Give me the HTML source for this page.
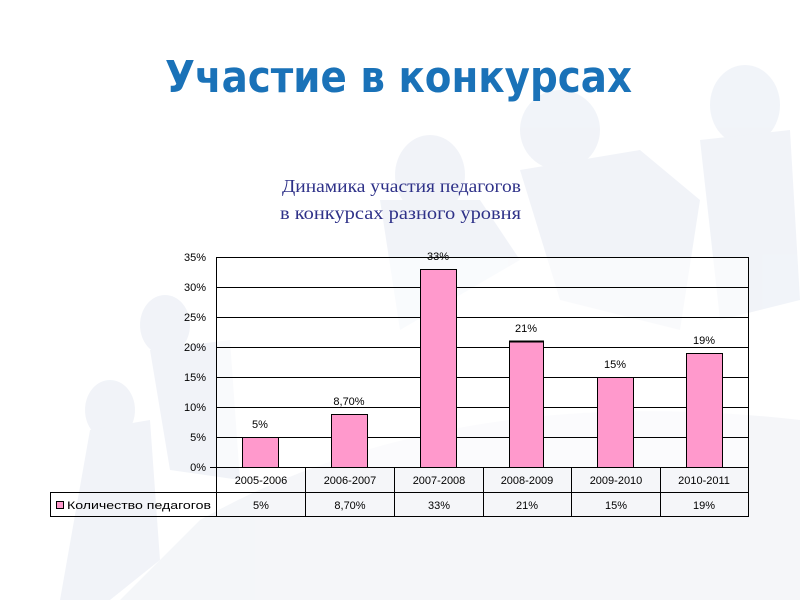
<!DOCTYPE html>
<html><head><meta charset="utf-8"><style>
html,body{margin:0;padding:0;background:#fff;}
</style></head><body>
<svg width="800" height="600" xmlns="http://www.w3.org/2000/svg" font-family="Liberation Sans, DejaVu Sans, sans-serif">
<rect width="800" height="600" fill="#ffffff"/>
<g fill="#eef1f7" opacity="0.8">
<ellipse cx="745" cy="105" rx="35" ry="40"/>
<ellipse cx="560" cy="130" rx="40" ry="40"/>
<ellipse cx="430" cy="175" rx="35" ry="40"/>
<ellipse cx="165" cy="325" rx="25" ry="30"/>
<ellipse cx="110" cy="410" rx="25" ry="30"/>
<path d="M520 170 L640 150 L700 200 L680 330 L560 300 Z"/>
<path d="M700 140 L790 130 L800 300 L720 320 Z"/>
<path d="M380 200 L480 200 L520 260 L400 330 Z"/>
<path d="M150 350 L230 340 L240 480 L170 470 Z"/>
<path d="M90 430 L150 420 L160 560 L110 600 L60 600 Z"/>
<path d="M200 520 Q450 380 800 420 L800 600 L120 600 Z" fill="#f2f4f8"/>
</g>
<text x="165" y="92" textLength="467" lengthAdjust="spacingAndGlyphs" font-size="44" font-weight="bold" fill="#1a72b8" font-family="DejaVu Sans, Liberation Sans, sans-serif">Участие в конкурсах</text>
<g font-family="Liberation Serif, serif" font-size="18" fill="#2e3188">
<text x="282" y="192" textLength="239" lengthAdjust="spacingAndGlyphs">Динамика участия педагогов</text>
<text x="280" y="219" textLength="241" lengthAdjust="spacingAndGlyphs">в конкурсах разного уровня</text>
</g>
<rect x="216" y="257" width="532" height="210" fill="#ffffff" fill-opacity="0.6"/>
<g stroke="#000" stroke-width="1">
<line x1="216" y1="257.5" x2="748" y2="257.5"/>
<line x1="216" y1="287.5" x2="748" y2="287.5"/>
<line x1="216" y1="317.5" x2="748" y2="317.5"/>
<line x1="216" y1="347.5" x2="748" y2="347.5"/>
<line x1="216" y1="377.5" x2="748" y2="377.5"/>
<line x1="216" y1="407.5" x2="748" y2="407.5"/>
<line x1="216" y1="437.5" x2="748" y2="437.5"/>
<line x1="210" y1="467.5" x2="748" y2="467.5"/>
<line x1="216.5" y1="257" x2="216.5" y2="517"/>
<line x1="748.5" y1="257" x2="748.5" y2="517"/>
</g>
<g fill="#ff99cc" stroke="#000" stroke-width="1">
<rect x="242.5" y="437.5" width="36" height="30"/>
<rect x="331.5" y="414.5" width="36" height="53"/>
<rect x="420.5" y="269.5" width="36" height="198"/>
<rect x="509.5" y="341.5" width="34" height="126"/>
<rect x="597.5" y="377.5" width="36" height="90"/>
<rect x="686.5" y="353.5" width="36" height="114"/>
</g>
<line x1="509" y1="341.5" x2="544" y2="341.5" stroke="#000" stroke-width="2"/>
<g font-size="11" fill="#000" text-anchor="end">
<text x="206" y="261">35%</text><text x="206" y="291">30%</text><text x="206" y="321">25%</text>
<text x="206" y="351">20%</text><text x="206" y="381">15%</text><text x="206" y="411">10%</text>
<text x="206" y="441">5%</text><text x="206" y="471">0%</text>
</g>
<g font-size="11" fill="#000" text-anchor="middle">
<text x="260" y="428">5%</text><text x="349" y="405">8,70%</text><text x="438" y="260">33%</text>
<text x="526" y="332">21%</text><text x="615" y="368">15%</text><text x="704" y="344">19%</text>
</g>
<g stroke="#000" stroke-width="1" fill="none">
<rect x="50.5" y="492.5" width="698" height="24"/>
<line x1="216" y1="492.5" x2="748" y2="492.5"/>
<line x1="216.5" y1="467" x2="216.5" y2="517"/>
<line x1="305.5" y1="467" x2="305.5" y2="517"/>
<line x1="394.5" y1="467" x2="394.5" y2="517"/>
<line x1="483.5" y1="467" x2="483.5" y2="517"/>
<line x1="571.5" y1="467" x2="571.5" y2="517"/>
<line x1="660.5" y1="467" x2="660.5" y2="517"/>
</g>
<rect x="56.5" y="501.5" width="7" height="7" fill="#ff99cc" stroke="#000"/>
<text x="67" y="509" font-size="11" fill="#000" textLength="144" lengthAdjust="spacingAndGlyphs">Количество педагогов</text>
<g font-size="11" fill="#000" text-anchor="middle">
<text x="261" y="484">2005-2006</text><text x="350" y="484">2006-2007</text><text x="439" y="484">2007-2008</text>
<text x="527" y="484">2008-2009</text><text x="616" y="484">2009-2010</text><text x="704" y="484">2010-2011</text>
<text x="261" y="509">5%</text><text x="350" y="509">8,70%</text><text x="439" y="509">33%</text>
<text x="527" y="509">21%</text><text x="616" y="509">15%</text><text x="704" y="509">19%</text>
</g>
</svg>
</body></html>
